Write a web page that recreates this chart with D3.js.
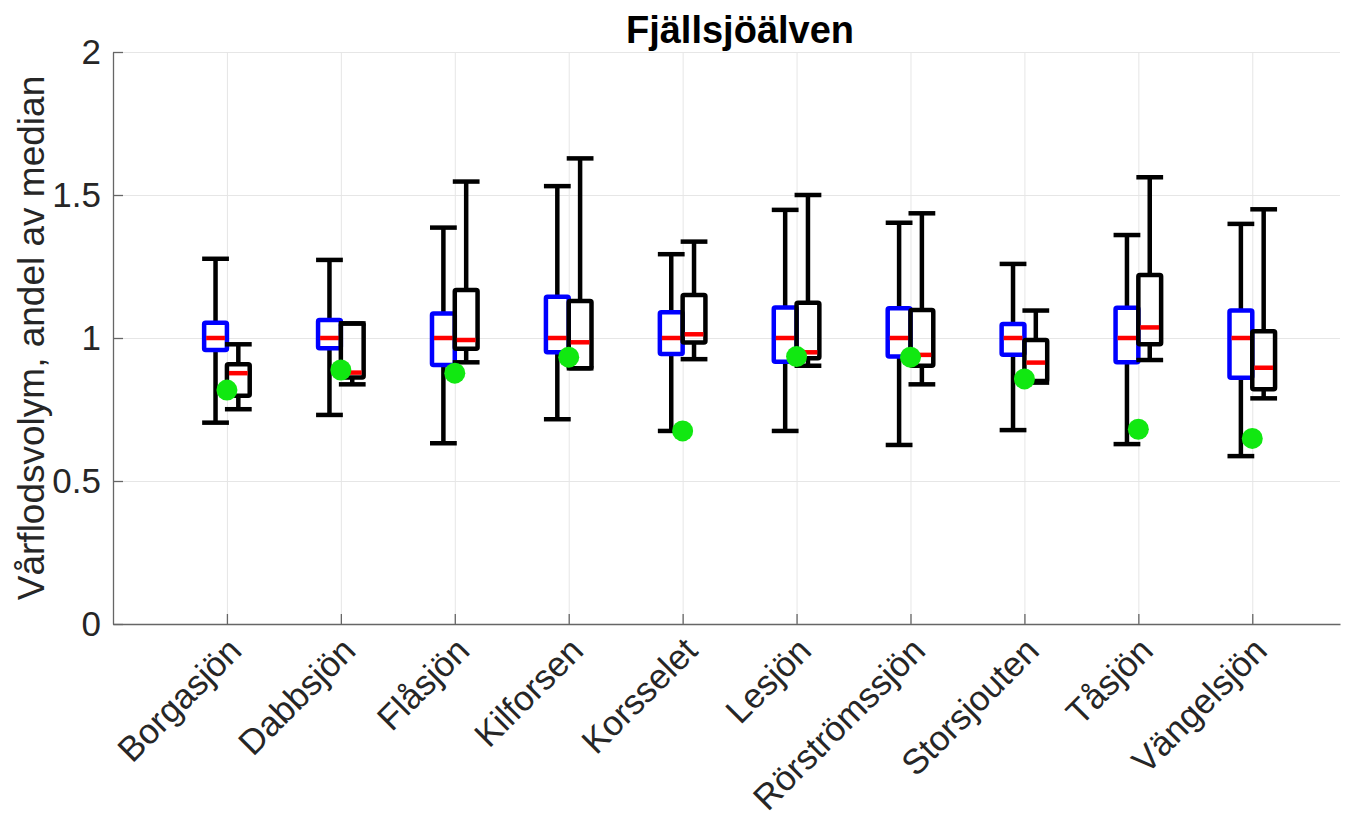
<!DOCTYPE html>
<html>
<head>
<meta charset="utf-8">
<script src="https://cdn.jsdelivr.net/npm/d3@7"></script>
<style>
  body { margin: 0; background: #fff; }
  text { font-family: "Liberation Sans", Arial, sans-serif; }
</style>
</head>
<body>
<div id="chart"></div>
<script>
const stations = ['Borgasjön', 'Dabbsjön', 'Flåsjön', 'Kilforsen', 'Korsselet', 'Lesjön', 'Rörströmssjön', 'Storsjouten', 'Tåsjön', 'Vängelsjön'];

// reference period (blue boxes)
const refLow = [0.704, 0.731, 0.632, 0.716, 0.675, 0.675, 0.626, 0.678, 0.629, 0.587];
const refQ1 = [0.958, 0.964, 0.906, 0.950, 0.944, 0.917, 0.935, 0.941, 0.915, 0.861];
const refMed = [1, 1, 1, 1, 1, 1, 1, 1, 1, 1];
const refQ3 = [1.053, 1.063, 1.086, 1.144, 1.090, 1.107, 1.104, 1.049, 1.106, 1.096];
const refHigh = [1.277, 1.273, 1.386, 1.531, 1.293, 1.448, 1.403, 1.259, 1.360, 1.399];

// scenario (black boxes)
const scenLow = [0.751, 0.838, 0.915, 0.894, 0.926, 0.903, 0.838, 0.844, 0.923, 0.789];
const scenQ1 = [0.798, 0.862, 0.962, 0.894, 0.984, 0.929, 0.903, 0.850, 0.978, 0.821];
const scenMed = [0.877, 0.879, 0.993, 0.985, 1.013, 0.950, 0.941, 0.914, 1.037, 0.896];
const scenQ3 = [0.908, 1.051, 1.168, 1.129, 1.150, 1.123, 1.098, 0.993, 1.220, 1.024];
const scenHigh = [0.978, 1.051, 1.547, 1.628, 1.337, 1.500, 1.436, 1.096, 1.562, 1.450];

// green markers
const observed = [0.818, 0.888, 0.877, 0.933, 0.675, 0.935, 0.933, 0.857, 0.681, 0.649];

const yTicks = [0, 0.5, 1, 1.5, 2];

const width = 1351;
const height = 832;
const margin = { left: 113, right: 11, top: 52, bottom: 208 };

const svg = d3.select('#chart')
              .append('svg')
              .attr('width', width)
              .attr('height', height);

const x = d3.scaleLinear()
            .domain([0, 10.77])
            .range([margin.left, width - margin.right]);

const y = d3.scaleLinear()
            .domain([0, 2])
            .range([height - margin.bottom, margin.top]);

const plotW = width - margin.right - margin.left;
const plotH = height - margin.bottom - margin.top;

// grid
const yAxis = svg.append('g')
                 .attr('transform', 'translate(' + margin.left + ',0)')
                 .call(d3.axisLeft(y).tickValues(yTicks).tickFormat(d3.format(''))
                         .tickSize(-plotW).tickSizeOuter(0).tickPadding(12));
yAxis.select('.domain').attr('stroke', '#666').attr('stroke-width', 1.3);
yAxis.selectAll('.tick line').attr('stroke', '#e6e6e6').attr('stroke-width', 1);
yAxis.selectAll('.tick text')
     .style('font-size', '35px')
     .attr('fill', '#262626');

const xAxis = svg.append('g')
                 .attr('transform', 'translate(0,' + (height - margin.bottom) + ')')
                 .call(d3.axisBottom(x).tickValues(d3.range(1, 11)).tickSize(-plotH)
                         .tickSizeOuter(0).tickFormat(''));
xAxis.select('.domain').attr('stroke', '#666').attr('stroke-width', 1.3);
xAxis.selectAll('.tick line').attr('stroke', '#e6e6e6').attr('stroke-width', 1);

// small inward tick marks
yAxis.selectAll('.tick').append('line')
     .attr('x2', 10).attr('stroke', '#666').attr('stroke-width', 1.3);
xAxis.selectAll('.tick').append('line')
     .attr('y2', -10).attr('stroke', '#666').attr('stroke-width', 1.3);

// x labels rotated
svg.append('g')
   .selectAll('text')
   .data(stations)
   .enter()
   .append('text')
   .attr('transform', (d, i) => 'translate(' + (x(i + 1) + 8) + ',' + (height - margin.bottom + 20) + ') rotate(-45)')
   .attr('text-anchor', 'end')
   .attr('dy', '0.35em')
   .style('font-size', '35px')
   .attr('fill', '#262626')
   .text((d) => d);

// y label
svg.append('text')
   .attr('transform', 'translate(44,' + (margin.top + plotH / 2) + ') rotate(-90)')
   .attr('text-anchor', 'middle')
   .style('font-size', '37px')
   .attr('fill', '#262626')
   .text('Vårflodsvolym, andel av median');

// title
svg.append('text')
   .attr('x', 740)
   .attr('y', 43)
   .attr('text-anchor', 'middle')
   .style('font-size', '38px')
   .style('font-weight', 'bold')
   .attr('fill', '#000')
   .text('Fjällsjöälven');

const boxW = 0.2;
const lw = 4.5;

const drawBoxes = (offset, low, q1, med, q3, high, color) => {
  const g = svg.append('g');
  stations.forEach((s, i) => {
    const cx = x(i + 1 + offset);
    const half = (x(boxW) - x(0)) / 2;
    // whiskers
    g.append('line')
     .attr('x1', cx).attr('x2', cx)
     .attr('y1', y(q3[i])).attr('y2', y(high[i]))
     .attr('stroke', '#000').attr('stroke-width', lw);
    g.append('line')
     .attr('x1', cx).attr('x2', cx)
     .attr('y1', y(q1[i])).attr('y2', y(low[i]))
     .attr('stroke', '#000').attr('stroke-width', lw);
    // caps
    [low[i], high[i]].forEach((v) => {
      g.append('line')
       .attr('x1', cx - half - 2).attr('x2', cx + half + 2)
       .attr('y1', y(v)).attr('y2', y(v))
       .attr('stroke', '#000').attr('stroke-width', lw);
    });
    // box
    g.append('rect')
     .attr('x', cx - half)
     .attr('y', y(q3[i]))
     .attr('width', half * 2)
     .attr('height', y(q1[i]) - y(q3[i]))
     .attr('fill', 'none')
     .attr('stroke', color)
     .attr('stroke-width', lw)
     .attr('rx', 1.5);
    // median
    g.append('line')
     .attr('x1', cx - half + 2).attr('x2', cx + half - 2)
     .attr('y1', y(med[i])).attr('y2', y(med[i]))
     .attr('stroke', '#ff0000').attr('stroke-width', lw);
  });
};

drawBoxes(-0.1, refLow, refQ1, refMed, refQ3, refHigh, '#0000ff');
drawBoxes(0.1, scenLow, scenQ1, scenMed, scenQ3, scenHigh, '#000000');

svg.append('g')
   .selectAll('circle')
   .data(observed)
   .enter()
   .append('circle')
   .attr('cx', (d, i) => x(i + 1))
   .attr('cy', (d) => y(d))
   .attr('r', 10.5)
   .attr('fill', '#11e811');
</script>
</body>
</html>
